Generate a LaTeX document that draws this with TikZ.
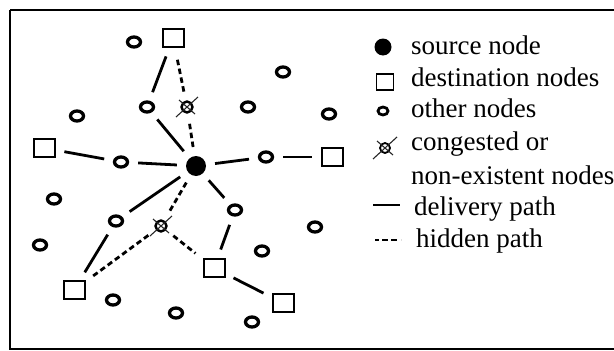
\documentclass[tikz,border=0pt]{standalone}
\usepackage{fontspec}
\setmainfont{Liberation Serif}
\usetikzlibrary{shapes.geometric}
\begin{document}
\begin{tikzpicture}[x=1pt,y=-1pt,
  other/.style={ellipse,draw,line width=3.3pt,minimum width=13pt,minimum height=10pt,inner sep=0pt},
  dest/.style={rectangle,draw,line width=2pt,minimum width=21pt,minimum height=18pt,inner sep=0pt},
  src/.style={circle,fill=black,minimum size=20pt,inner sep=0pt},
  cong/.style={circle,draw,line width=2.4pt,minimum size=11pt,inner sep=0pt},
  link/.style={line width=2.8pt,shorten >=9pt,shorten <=9pt},
  hid/.style={link,dash pattern=on 5.5pt off 3.5pt},
  lbl/.style={anchor=base west,font=\fontsize{27}{31}\selectfont,inner sep=0pt},
  cross/.style={line width=1.1pt,black!85}]
\useasboundingbox (0,0) rectangle (614,351);
\draw[line width=2.6pt] (10,10) -- (10,349) -- (625,349);
\draw[line width=2.6pt] (10,10) -- (625,10);
% nodes
\node[src] (s) at (196,166) {};
\node[dest] (d1) at (173,38) {};
\node[dest] (d2) at (44,148) {};
\node[dest] (d3) at (332,157) {};
\node[dest] (d4) at (214,268) {};
\node[dest] (d5) at (74,290) {};
\node[dest] (d6) at (283,303) {};
\node[cong] (c1) at (187,107) {};
\node[cong] (c2) at (161,226) {};
\foreach \n in {c1,c2}{
  \draw[cross] (\n.center) +(-11,10) -- +(11,-10);
  \draw[cross] (\n.center) +(-8,-7) -- +(8,7);
}
\node[other] (o1) at (134,42) {};
\node[other] (o2) at (283,72) {};
\node[other] (o3) at (147,107) {};
\node[other] (o4) at (248,107) {};
\node[other] (o5) at (77,116) {};
\node[other] (o6) at (329,114) {};
\node[other] (o7) at (121,162) {};
\node[other] (o8) at (266,157) {};
\node[other] (o9) at (54,199) {};
\node[other] (o10) at (116,221) {};
\node[other] (o11) at (235,210) {};
\node[other] (o12) at (40,245) {};
\node[other] (o13) at (315,227) {};
\node[other] (o14) at (262,251) {};
\node[other] (o15) at (113,300) {};
\node[other] (o16) at (176,313) {};
\node[other] (o17) at (252,322) {};
% links
\draw[link] (s) -- (o7);
\draw[link] (o7) -- (d2);
\draw[link] (s) -- (o3);
\draw[link] (o3) -- (d1);
\draw[hid] (s) -- (c1);
\draw[hid] (c1) -- (d1);
\draw[link] (s) -- (o8);
\draw[link] (o8) -- (d3);
\draw[link] (s) -- (o10);
\draw[link] (o10) -- (d5);
\draw[hid] (s) -- (c2);
\draw[hid] (c2) -- (d4);
\draw[hid] (c2) -- (d5);
\draw[link] (s) -- (o11);
\draw[link] (o11) -- (d4);
\draw[link] (d4) -- (d6);
% legend
\node[src,minimum size=17pt] (ls) at (383,47) {};
\node[dest,minimum width=17pt,minimum height=16pt,line width=1.5pt] (ld) at (385,82) {};
\node[other,minimum width=10pt,minimum height=8pt,line width=2.8pt] (lo) at (383,111) {};
\node[cong,minimum size=10pt,line width=1.8pt] (lc) at (385,148) {};
\draw[cross] (lc.center) +(-12,11) -- +(12,-11);
\draw[cross] (lc.center) +(-8,-7) -- +(8,7);
\coordinate (la1) at (373,205);
\coordinate (la2) at (400,205);
\coordinate (lb1) at (375,240);
\coordinate (lb2) at (401,240);
\draw[line width=2.5pt] (la1) -- (la2);
\draw[line width=2.5pt,dash pattern=on 4pt off 3pt on 6pt off 3pt on 6pt] (lb1) -- (lb2);
\node[lbl] (t1) at (411,54) {source node};
\node[lbl] (t2) at (411,86) {destination nodes};
\node[lbl] (t3) at (411,117) {other nodes};
\node[lbl] (t4) at (411,150) {congested or};
\node[lbl] (t5) at (411,184) {non-existent nodes};
\node[lbl] (t6) at (414,215) {delivery path};
\node[lbl] (t7) at (416,247) {hidden path};
\end{tikzpicture}
\end{document}
